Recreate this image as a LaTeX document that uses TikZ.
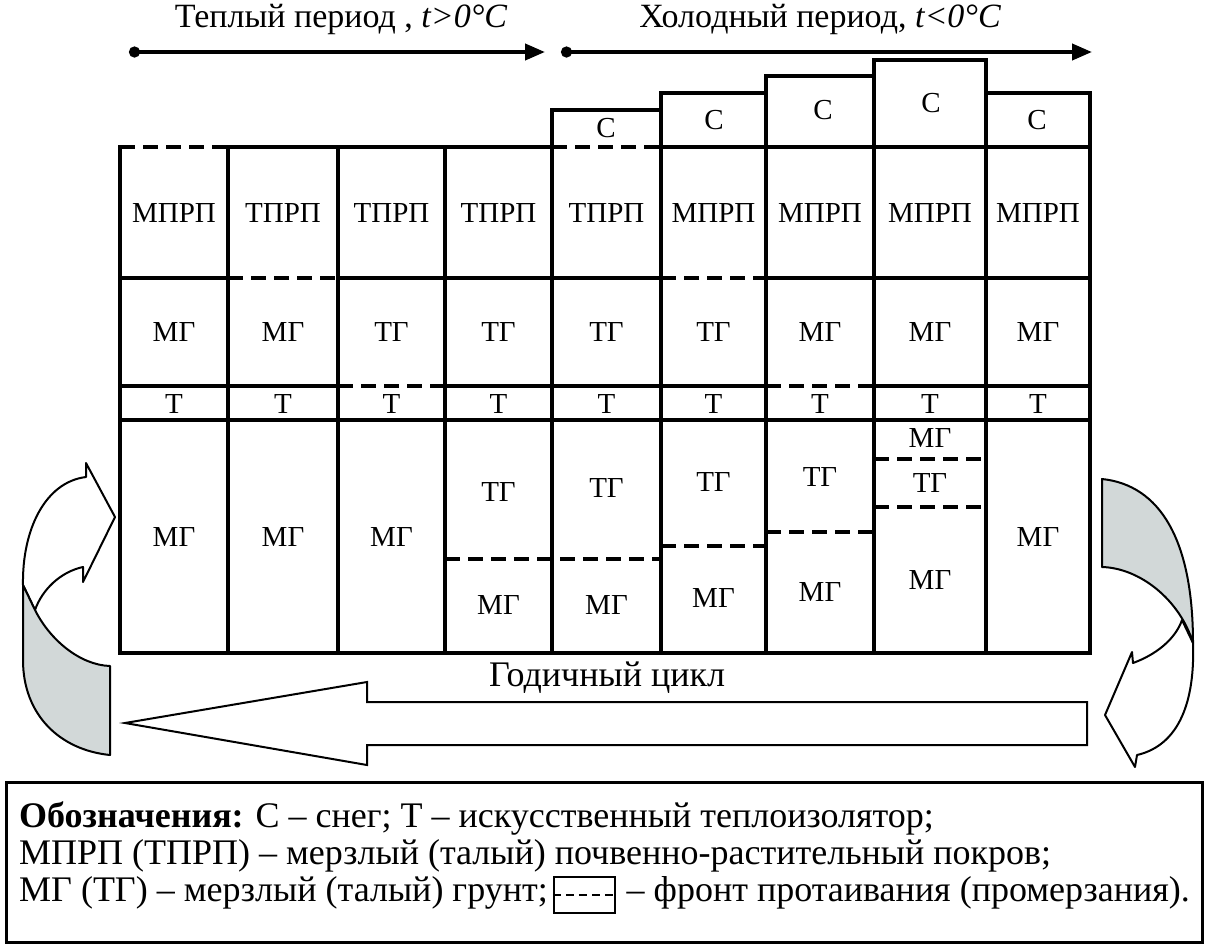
\documentclass[tikz,border=0pt]{standalone}
\usepackage{fontspec}
\setmainfont{Liberation Serif}
\usetikzlibrary{arrows.meta}
\definecolor{ribbon}{RGB}{210,216,216}
\begin{document}
\begin{tikzpicture}[x=1pt,y=-1pt,
  solidl/.style={line width=4pt,line cap=rect},
  dashl/.style={line width=4pt,dash pattern=on 15pt off 8pt},
  cell/.style={font=\fontsize{29}{34}\selectfont,inner sep=0pt},
  ttl/.style={font=\fontsize{34}{40}\selectfont,inner sep=0pt,anchor=base},
  leg/.style={font=\fontsize{36}{40}\selectfont,inner sep=0pt,anchor=base west},
  toparrow/.style={line width=4pt,{Circle[length=11pt]}-{Triangle[length=20pt,width=16pt]}},
  curl/.style={line width=2pt,line join=round},
  bigarrow/.style={line width=2pt,fill=white,line join=miter}]
\useasboundingbox (0,0) rectangle (1210,946);

% titles and top arrows
\node[ttl] (warm) at (341,27) {Теплый период , {\itshape t>0°C}};
\node[ttl] (cold) at (820,27) {Холодный период, {\itshape t<0°C}};
\coordinate (wa) at (129,52); \coordinate (wb) at (545,52);
\coordinate (ca) at (561,52); \coordinate (cb) at (1092,52);
\draw[toparrow] (wa) -- (wb);
\draw[toparrow] (ca) -- (cb);

% snow steps
\draw[solidl] (552,147) -- (552,110) -- (661,110);
\draw[solidl] (661,147) -- (661,93) -- (766,93);
\draw[solidl] (766,147) -- (766,76) -- (874,76);
\draw[solidl] (874,147) -- (874,60) -- (986,60) -- (986,147);
\draw[solidl] (986,93) -- (1090,93) -- (1090,147);

% vertical lines
\foreach \x in {120,228,338,445,552,661,766,874,986,1090}
  \draw[solidl] (\x,147) -- (\x,653);

% horizontal lines
\draw[dashl] (120,147) -- (228,147);
\draw[solidl] (228,147) -- (552,147);
\draw[dashl] (552,147) -- (661,147);
\draw[solidl] (661,147) -- (1090,147);

\draw[solidl] (120,278) -- (228,278);
\draw[dashl] (228,278) -- (338,278);
\draw[solidl] (338,278) -- (661,278);
\draw[dashl] (661,278) -- (766,278);
\draw[solidl] (766,278) -- (1090,278);

\draw[solidl] (120,386) -- (338,386);
\draw[dashl] (338,386) -- (445,386);
\draw[solidl] (445,386) -- (766,386);
\draw[dashl] (766,386) -- (874,386);
\draw[solidl] (874,386) -- (1090,386);

\draw[solidl] (120,420) -- (1090,420);
\draw[solidl] (120,653) -- (1090,653);

\draw[dashl] (445,559) -- (661,559);
\draw[dashl] (661,546) -- (766,546);
\draw[dashl] (766,532) -- (874,532);
\draw[dashl] (874,459) -- (986,459);
\draw[dashl] (874,507) -- (986,507);

% snow labels
\node[cell] (s5) at (606,128) {С};
\node[cell] (s6) at (714,120) {С};
\node[cell] (s7) at (823,110) {С};
\node[cell] (s8) at (931,103) {С};
\node[cell] (s9) at (1037,120) {С};

% row 1
\node[cell] (a1) at (174,213) {МПРП};
\node[cell] (a2) at (283,213) {ТПРП};
\node[cell] (a3) at (391.5,213) {ТПРП};
\node[cell] (a4) at (498.5,213) {ТПРП};
\node[cell] (a5) at (606.5,213) {ТПРП};
\node[cell] (a6) at (713.5,213) {МПРП};
\node[cell] (a7) at (820,213) {МПРП};
\node[cell] (a8) at (930,213) {МПРП};
\node[cell] (a9) at (1038,213) {МПРП};

% row 2
\node[cell] (b1) at (174,332) {МГ};
\node[cell] (b2) at (283,332) {МГ};
\node[cell] (b3) at (391.5,332) {ТГ};
\node[cell] (b4) at (498.5,332) {ТГ};
\node[cell] (b5) at (606.5,332) {ТГ};
\node[cell] (b6) at (713.5,332) {ТГ};
\node[cell] (b7) at (820,332) {МГ};
\node[cell] (b8) at (930,332) {МГ};
\node[cell] (b9) at (1038,332) {МГ};

% insulator row
\foreach \x/\n in {174/1,283/2,391.5/3,498.5/4,606.5/5,713.5/6,820/7,930/8,1038/9}
  \node[cell] (t\n) at (\x,404) {Т};

% lower section
\node[cell] (d1) at (174,537) {МГ};
\node[cell] (d2) at (283,537) {МГ};
\node[cell] (d3) at (391.5,537) {МГ};
\node[cell] (d4u) at (498.5,492) {ТГ};
\node[cell] (d4l) at (498.5,605) {МГ};
\node[cell] (d5u) at (606.5,488) {ТГ};
\node[cell] (d5l) at (606.5,605) {МГ};
\node[cell] (d6u) at (713.5,482) {ТГ};
\node[cell] (d6l) at (713.5,598) {МГ};
\node[cell] (d7u) at (820,477) {ТГ};
\node[cell] (d7l) at (820,592) {МГ};
\node[cell] (d8a) at (930,438) {МГ};
\node[cell] (d8b) at (930,483) {ТГ};
\node[cell] (d8c) at (930,580) {МГ};
\node[cell] (d9) at (1038,537) {МГ};

% big arrow
\draw[bigarrow] (125,723) -- (367,682) -- (367,702) -- (1087,702) -- (1087,745)
  -- (367,745) -- (367,765) -- cycle;
\node[cell,font=\fontsize{36}{40}\selectfont] (cycle) at (607,678) {Годичный цикл};

% left curl
\draw[curl,fill=white] (23,585) .. controls (22,530) and (45,482) .. (86,477)
  -- (86,463) -- (115,517) -- (83,582) -- (83,567)
  .. controls (60,572) and (42,590) .. (35,610) -- cycle;
\draw[curl,fill=ribbon] (23,585) -- (35,610) .. controls (50,640) and (80,665) .. (110,666)
  -- (110,755) .. controls (60,750) and (23,715) .. (23,660) -- cycle;

% right curl
\draw[curl,fill=white] (1182,620) .. controls (1175,640) and (1155,655) .. (1133,663)
  -- (1132,652) -- (1105,715) -- (1135,767) -- (1137,755)
  .. controls (1180,745) and (1195,700) .. (1193,643) -- cycle;
\draw[curl,fill=ribbon] (1102,479) .. controls (1160,485) and (1193,540) .. (1193,643)
  .. controls (1180,600) and (1140,568) .. (1102,567) -- cycle;

% legend
\draw[line width=3pt] (6,782) rectangle (1202,942);
\node[leg] (l1) at (19,827) {\textbf{Обозначения:} С – снег; Т – искусственный теплоизолятор;};
\node[leg] (l2) at (19,864) {МПРП (ТПРП) – мерзлый (талый) почвенно-растительный покров;};
\node[leg] (l3) at (19,901) {МГ (ТГ) – мерзлый (талый) грунт;};
\node[draw,line width=2.5pt,minimum width=61pt,minimum height=36pt,inner sep=0pt,anchor=west]
  (sample) at ([xshift=5pt]l3.east |- 0,895) {};
\draw[line width=2.5pt,dash pattern=on 8pt off 5pt] (sample.west) -- (sample.east);
\node[leg] (l3b) at ([xshift=10pt]sample.east |- l3.base) {– фронт протаивания (промерзания).};
\end{tikzpicture}
\end{document}
